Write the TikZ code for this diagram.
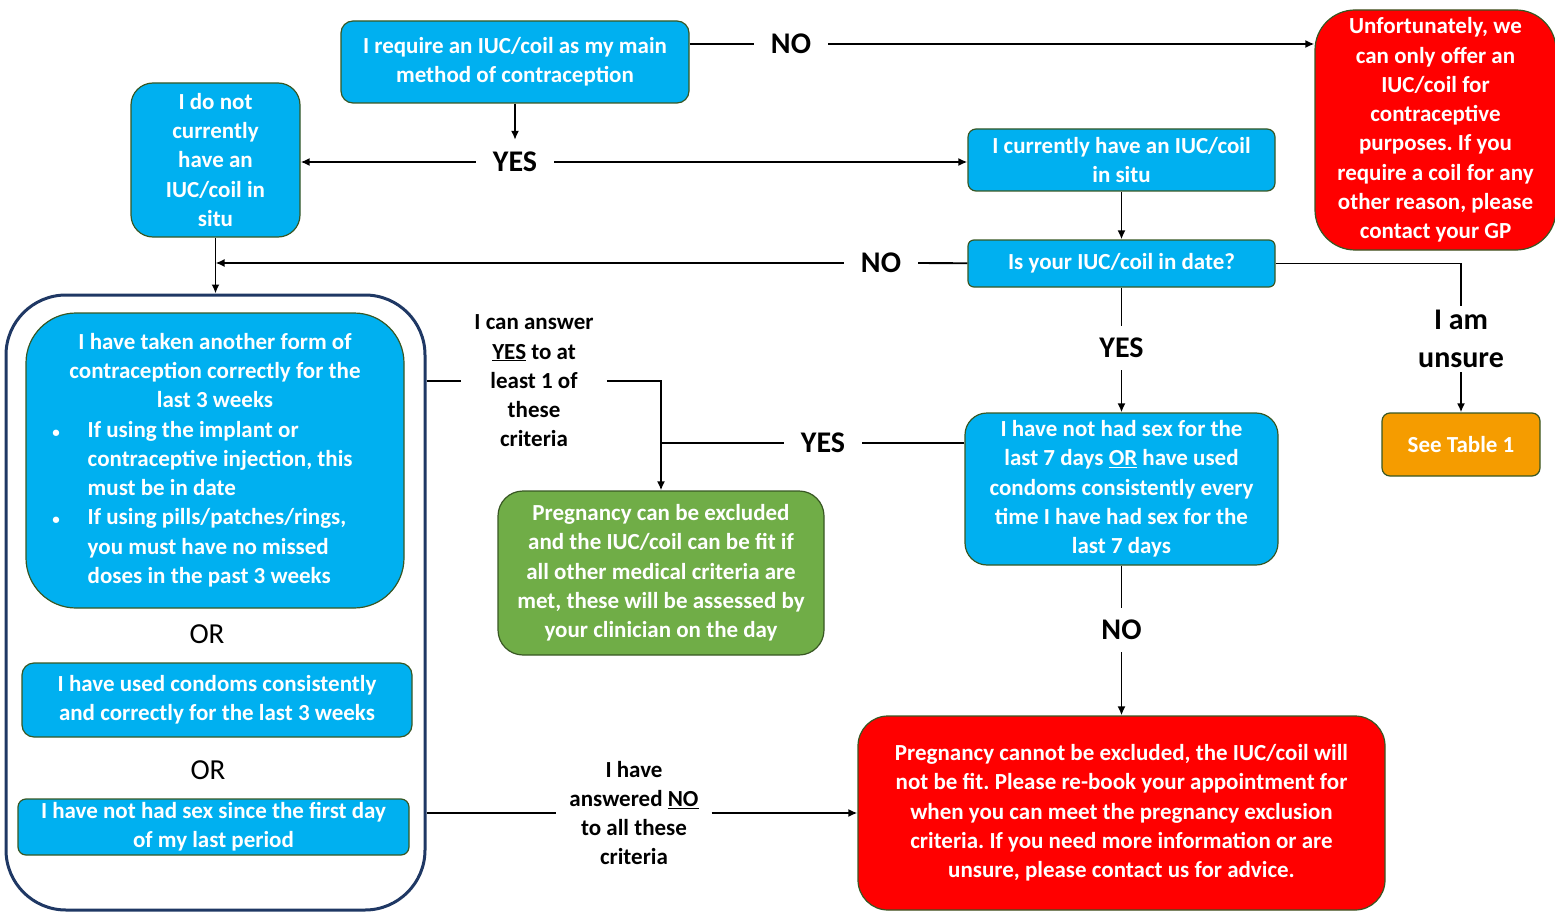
\documentclass[tikz,border=0pt]{standalone}
\usepackage{fontspec}
\setmainfont{Carlito}
\usepackage{array}
\usetikzlibrary{arrows.meta, positioning}
\definecolor{cyan1}{RGB}{0,176,240}
\definecolor{red1}{RGB}{255,0,0}
\definecolor{green1}{RGB}{112,173,71}
\definecolor{orange1}{RGB}{245,156,0}
\definecolor{navy1}{RGB}{31,56,100}
\definecolor{edge1}{RGB}{56,87,35}
\newcommand{\boxfont}{\fontsize{23}{29.3}\selectfont}
\newcommand{\bigfont}{\fontsize{30}{38}\selectfont}
\frenchspacing

\begin{document}
\begin{tikzpicture}[x=1pt, y=-1pt,
    myarrow/.style={-{Latex[length=9pt,width=8pt]}, line width=1.8pt},
    myline/.style={line width=1.8pt},
    box/.style={rectangle, draw=edge1, line width=1.2pt, text=white, font=\bfseries\boxfont, align=center, inner sep=0pt},
    bluebox/.style={box, fill=cyan1},
    redbox/.style={box, fill=red1},
    greenbox/.style={box, fill=green1},
    orangebox/.style={box, fill=orange1},
    answer/.style={fill=white, font=\bfseries\bigfont, inner xsep=17pt, inner ysep=12pt},
    criteria/.style={fill=white, font=\bfseries\boxfont, align=center, inner xsep=13pt, inner ysep=6pt},
    orlabel/.style={font=\fontsize{29}{32}\selectfont, inner sep=2pt},
    outerframe/.style={rectangle, draw=navy1, line width=3pt, rounded corners=60pt}
]
\useasboundingbox (0,0) rectangle (1555,912);

% Top row
\node[bluebox, minimum width=348, minimum height=82, rounded corners=12pt] (need) at (515,62)
  {I require an IUC/coil as my main\\method of contraception};
\node[redbox, minimum width=241, minimum height=240, rounded corners=40pt] (offer) at (1435.5,130)
  {Unfortunately, we\\can only offer an\\IUC/coil for\\contraceptive\\purposes. If you\\require a coil for any\\other reason, please\\contact your GP};
\node[bluebox, minimum width=169, minimum height=154, rounded corners=22pt] (nocoil) at (215.5,160)
  {I do not\\currently\\have an\\IUC/coil in\\situ};
\node[bluebox, minimum width=307, minimum height=62, rounded corners=8pt] (hascoil) at (1121.5,160)
  {I currently have an IUC/coil\\in situ};
\node[bluebox, minimum width=307, minimum height=47, rounded corners=6pt] (indate) at (1121.5,263.5)
  {Is your IUC/coil in date?};

% Right column
\node[bluebox, minimum width=313, minimum height=152, rounded corners=22pt] (nosex) at (1121.5,489)
  {I have not had sex for the\\last 7 days \underline{OR} have used\\condoms consistently every\\time I have had sex for the\\last 7 days};
\node[orangebox, minimum width=158, minimum height=63, rounded corners=8pt] (table) at (1461,444.5)
  {See Table 1};
\node[redbox, minimum width=527, minimum height=194, rounded corners=30pt] (cannot) at (1121.5,813)
  {Pregnancy cannot be excluded, the IUC/coil will\\not be fit. Please re-book your appointment for\\when you can meet the pregnancy exclusion\\criteria. If you need more information or are\\unsure, please contact us for advice.};
\node[greenbox, minimum width=326, minimum height=164, rounded corners=25pt] (can) at (661,573)
  {Pregnancy can be excluded\\and the IUC/coil can be fit if\\all other medical criteria are\\met, these will be assessed by\\your clinician on the day};

% Criteria frame
\node[outerframe, minimum width=419, minimum height=615] (frame) at (215.5,602.5) {};
\node[bluebox, minimum width=378, minimum height=295, rounded corners=50pt] (other) at (215,460.5)
  {\begin{tabular}{@{}l@{\hspace{28pt}}>{\raggedright\arraybackslash}p{290pt}@{}}
   \multicolumn{2}{c}{I have taken another form of}\\
   \multicolumn{2}{c}{contraception correctly for the}\\
   \multicolumn{2}{c}{last 3 weeks}\\
   {\fontsize{15}{15}\selectfont\textbullet} & If using the implant or\\
               & contraceptive injection, this\\
               & must be in date\\
   {\fontsize{15}{15}\selectfont\textbullet} & If using pills/patches/rings,\\
               & you must have no missed\\
               & doses in the past 3 weeks
   \end{tabular}};
\node[orlabel] (or1) at (207,634) {OR};
\node[bluebox, minimum width=390, minimum height=74, rounded corners=12pt] (condoms) at (217,700)
  {I have used condoms consistently\\and correctly for the last 3 weeks};
\node[orlabel] (or2) at (208,770) {OR};
\node[bluebox, minimum width=391, minimum height=56, rounded corners=8pt] (period) at (213.5,827)
  {I have not had sex since the first day\\of my last period};

% Answers on the connectors
\node[answer] (no1) at (791,44) {NO};
\node[answer] (yes1) at (515,162) {YES};
\node[answer] (no2) at (881,263) {NO};
\node[answer, align=center, inner ysep=4pt] (unsure) at (1461,339) {I am\\unsure};
\node[answer] (yes2) at (1121.5,348) {YES};
\node[answer] (yes3) at (823,443) {YES};
\node[answer] (no3) at (1121.5,630) {NO};
\node[criteria] (atleast) at (534,381) {I can answer\\\underline{YES} to at\\least 1 of\\these\\criteria};
\node[criteria] (allno) at (634,813) {I have\\answered \underline{NO}\\to all these\\criteria};

% Connectors
\draw[myline] (need.east |- no1) -- (no1);
\draw[myarrow] (no1) -- (no1 -| offer.west);
\draw[myarrow] (need) -- (yes1);
\draw[myarrow] (yes1) -- (yes1 -| nocoil.east);
\draw[myarrow] (yes1) -- (yes1 -| hascoil.west);
\draw[myarrow] (hascoil) -- (indate);
\draw[myline] (indate) -- (no2);
\draw[myarrow] (no2) -- (no2 -| nocoil.south);
\draw[myarrow] (nocoil) -- (frame.north);
\draw[myline] (indate) -| (unsure);
\draw[myarrow] (unsure) -- (table);
\draw[myline] (indate) -- (yes2);
\draw[myarrow] (yes2) -- (nosex);
\draw[myline] (nosex) -- (no3);
\draw[myarrow] (no3) -- (cannot);
\draw[myline] (atleast -| frame.east) -- (atleast);
\draw[myarrow] (atleast) -| (can.north);
\draw[myline] (yes3 -| nosex.west) -- (yes3);
\draw[myline] (yes3) -- (yes3 -| can.north);
\draw[myline] (allno -| frame.east) -- (allno);
\draw[myarrow] (allno) -- (cannot);

\end{tikzpicture}
\end{document}
